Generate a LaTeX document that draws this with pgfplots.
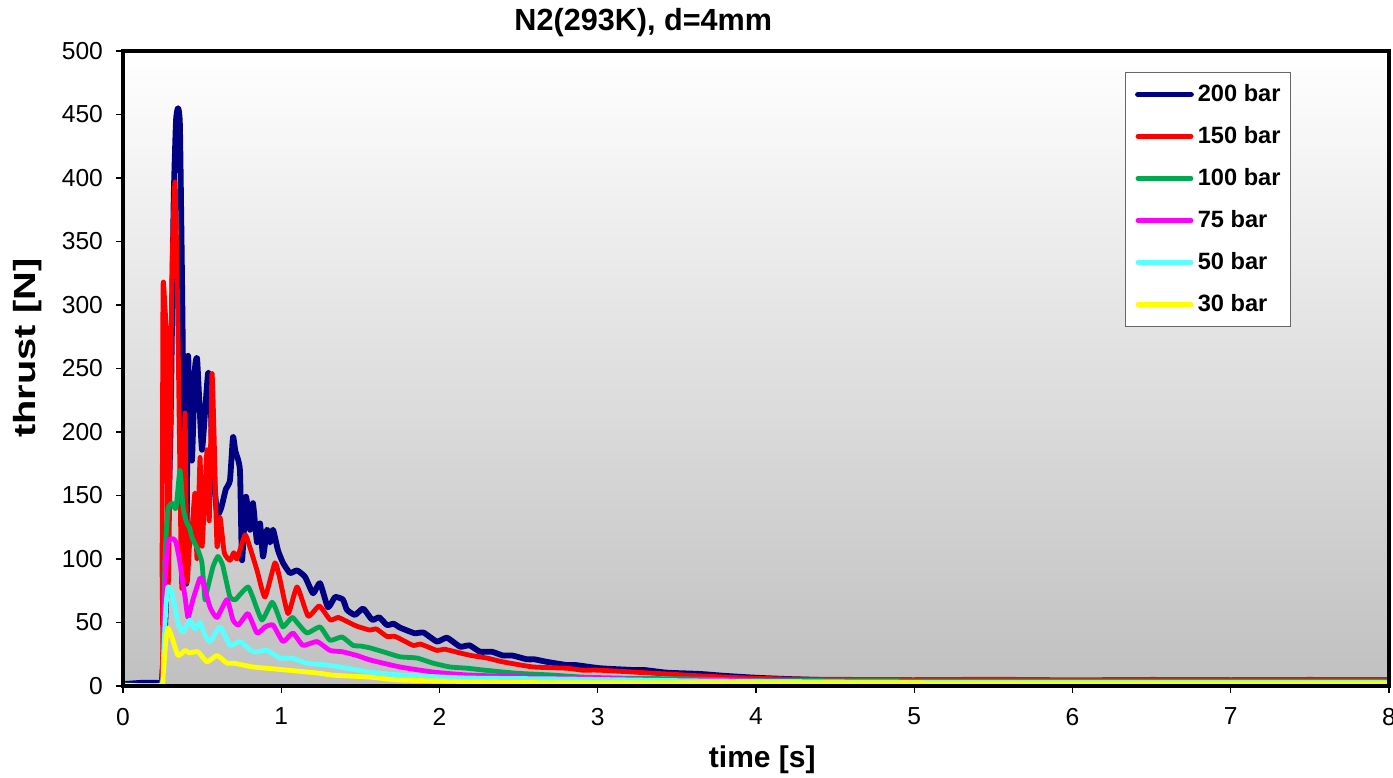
\documentclass[border=0pt]{standalone}
\usepackage{graphicx}
\usepackage{pgfplots}
\pgfplotsset{compat=1.18}
\usepackage{fontspec}
\setmainfont{Liberation Sans}
\definecolor{bggray}{RGB}{192,192,192}
\definecolor{navyc}{RGB}{0,0,128}
\definecolor{redc}{RGB}{255,0,0}
\definecolor{greenc}{RGB}{0,168,80}
\definecolor{magc}{RGB}{255,0,255}
\definecolor{cyanc}{RGB}{90,255,255}
\definecolor{yelc}{RGB}{255,255,0}
\begin{document}
\begin{tikzpicture}
\useasboundingbox (-61.5pt,-45.5pt) rectangle (635pt,343pt);
\begin{axis}[
  at={(0,0)}, anchor=south west,
  scale only axis, width=633pt, height=317.5pt,
  xmin=0, xmax=8, ymin=0, ymax=500,
  xtick={0,1,...,8}, ytick={0,50,...,500},
  axis on top,
  axis line style={line width=1.8pt, black},
  tick align=outside, tick pos=left,
  major tick length=3.5pt,
  every tick/.style={line width=0.6pt, black},
  ticklabel style={font=\fontsize{12.3}{14}\selectfont},
  yticklabel style={xshift=-3pt},
  xticklabel style={yshift=-4pt},
  /pgf/number format/assume math mode=true,
  axis background/.style={top color=white, bottom color=bggray},
  title={N2(293K), d=4mm},
  title style={at={(axis description cs:0.411,1.044)}, anchor=center, yshift=-6pt, font=\bfseries\fontsize{15.3}{18}\selectfont},
  xlabel={time [s]},
  xlabel style={at={(axis description cs:0.505,-0.1165)}, anchor=center, font=\bfseries\fontsize{15}{18}\selectfont},
  ylabel={\scalebox{1.3}[1]{thrust [N]}},
  ylabel style={at={(axis description cs:-0.075,0.532)}, anchor=center, font=\bfseries\fontsize{15.3}{18}\selectfont},
  legend style={at={(axis description cs:0.9226,0.967)}, anchor=north east,
    draw=gray!80!black, fill=white, line width=0.5pt,
    font=\bfseries\fontsize{11.8}{13}\selectfont,
    inner xsep=5pt, inner ysep=5.5pt,
    nodes={inner sep=0pt, text height=9pt, text depth=2pt, anchor=west},
    row sep=10pt, column sep=2pt},
  legend cell align=left,
  legend image code/.code={\draw[#1] (0pt,0pt) -- (26.5pt,0pt);},
  every axis plot/.append style={line join=round, line cap=round, smooth, tension=0.3},
]
\addplot[navyc, line width=2.9pt] coordinates {
(0,1.5) (0.12,2.5) (0.22,2.5) (0.245,3) (0.27,60) (0.30,200) (0.32,380) (0.335,445) (0.348,455) (0.36,440)
(0.375,300) (0.39,120) (0.40,83) (0.411,259) (0.423,200) (0.436,178) (0.455,250) (0.468,258) (0.48,230)
(0.499,186) (0.518,215) (0.537,246) (0.55,240) (0.565,180) (0.594,136) (0.62,140) (0.65,155) (0.676,162)
(0.695,196) (0.71,185) (0.739,170) (0.752,99) (0.777,149) (0.803,123) (0.821,144) (0.847,113) (0.866,128)
(0.885,102) (0.91,123) (0.929,113) (0.948,123) (0.979,107) (1.011,97) (1.055,89) (1.10,91) (1.15,86)
(1.201,73) (1.245,81) (1.295,62) (1.34,70) (1.39,68) (1.415,60) (1.466,56) (1.517,61) (1.561,54) (1.58,52)
(1.62,54) (1.668,48) (1.71,49) (1.75,46) (1.81,43) (1.845,41.5) (1.90,42) (1.984,35) (2.047,38) (2.13,31)
(2.19,32) (2.256,27) (2.33,27) (2.401,24) (2.46,24) (2.553,21) (2.60,21) (2.679,19) (2.806,16.5) (2.86,16.5)
(3.014,14) (3.223,12.6) (3.30,12.5) (3.438,10.5) (3.646,9.5) (3.8,8) (4.0,6.5) (4.2,5.5) (4.5,4.5) (5,4)
(6,3.8) (7,3.7) (8,3.7)};
\addlegendentry{200 bar}
\addplot[redc, line width=2.4pt] coordinates {
(0,0.5) (0.24,0.5) (0.247,100) (0.253,313) (0.265,298) (0.275,270) (0.285,80) (0.295,150) (0.31,330)
(0.329,397) (0.345,300) (0.365,120) (0.373,78) (0.392,215) (0.404,83) (0.42,110) (0.436,123) (0.455,152)
(0.468,100) (0.487,180) (0.50,110) (0.531,186) (0.545,130) (0.562,246) (0.575,200) (0.594,110) (0.613,133)
(0.64,105) (0.676,99) (0.70,105) (0.72,100) (0.771,119) (0.80,110) (0.847,91) (0.897,70) (0.960,97) (0.99,85)
(1.043,57) (1.10,78) (1.17,55) (1.24,63) (1.31,52) (1.36,54) (1.434,49.6) (1.48,47) (1.561,44) (1.60,45)
(1.668,39) (1.72,39) (1.833,32) (1.88,33) (1.984,28) (2.03,29) (2.130,26) (2.20,24) (2.300,22) (2.401,19)
(2.591,15) (2.806,14) (2.90,12.5) (3.0,12.5) (3.223,11) (3.43,9.5) (3.646,8) (3.9,6.5) (4.2,5.5) (4.6,5.2)
(5,5) (5.5,5.3) (6,4.9) (6.5,5.2) (7,5) (7.5,5.2) (8,5)};
\addlegendentry{150 bar}
\addplot[greenc, line width=2.4pt] coordinates {
(0,1) (0.24,1) (0.255,20) (0.265,100) (0.284,139) (0.31,144) (0.335,140) (0.36,170) (0.38,140) (0.404,128)
(0.42,125) (0.436,117) (0.455,112) (0.474,107) (0.499,97) (0.518,68) (0.531,75) (0.569,94) (0.600,102)
(0.63,95) (0.676,70) (0.71,68) (0.739,72) (0.790,78) (0.82,70) (0.878,52) (0.942,66) (0.98,56) (1.011,46.5)
(1.068,54) (1.10,50) (1.163,41.7) (1.245,46.5) (1.308,36) (1.384,38.6) (1.453,32) (1.50,31.5) (1.561,30)
(1.643,27) (1.750,23) (1.858,22) (1.959,18) (2.066,15) (2.174,14) (2.275,12.6) (2.490,10) (2.698,8.7)
(2.907,7) (3.223,6) (3.646,5.5) (4,4.5) (5,4) (8,4)};
\addlegendentry{100 bar}
\addplot[magc, line width=2.4pt] coordinates {
(0,0.5) (0.24,0.5) (0.255,20) (0.265,80) (0.284,113) (0.316,116) (0.335,113) (0.360,97) (0.392,70) (0.411,54)
(0.442,68) (0.487,85) (0.51,80) (0.550,62) (0.594,54) (0.657,68) (0.695,52) (0.73,48) (0.790,57) (0.847,41.7)
(0.897,46.5) (0.948,48) (1.011,35) (1.074,41.7) (1.137,32) (1.226,35) (1.308,28) (1.384,27) (1.479,24)
(1.561,20.5) (1.750,15) (1.959,11) (2.174,8.7) (2.591,7) (3.223,5.5) (4,4) (5,3.5) (8,3.5)};
\addlegendentry{75 bar}
\addplot[cyanc, line width=2.4pt] coordinates {
(0,0.5) (0.24,0.5) (0.255,20) (0.27,60) (0.284,78) (0.31,74) (0.348,49.6) (0.379,42.5) (0.423,52) (0.455,45)
(0.487,50) (0.51,42) (0.550,35) (0.613,46.5) (0.676,32) (0.739,35) (0.821,27) (0.910,28) (0.992,22)
(1.068,22) (1.163,18) (1.289,16.5) (1.415,14) (1.561,11) (1.750,8.7) (2.174,6.3) (2.806,5.5) (3.646,4)
(5,3) (8,3)};
\addlegendentry{50 bar}
\addplot[yelc, line width=2.4pt] coordinates {
(0,0.5) (0.24,0.5) (0.255,10) (0.27,35) (0.284,45.6) (0.31,38) (0.348,24) (0.392,28) (0.42,26) (0.474,27)
(0.531,19) (0.594,24) (0.657,18) (0.70,18) (0.821,15) (1.030,12.6) (1.245,10) (1.327,8.5) (1.561,7)
(1.750,4.7) (2.382,3) (3,2.5) (8,2.4)};
\addlegendentry{30 bar}
\end{axis}
\end{tikzpicture}
\end{document}
